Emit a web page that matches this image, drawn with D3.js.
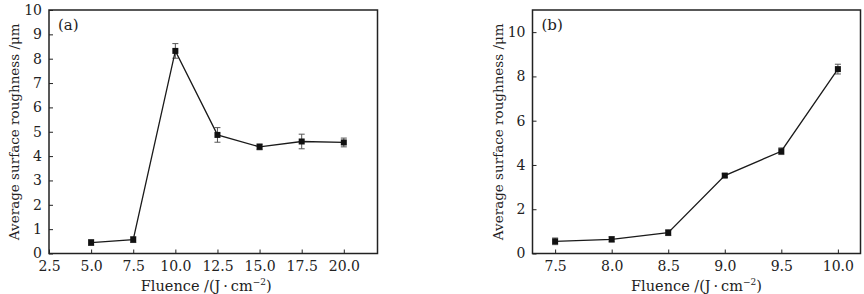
<!DOCTYPE html>
<html>
<head>
<meta charset="utf-8">
<script src="https://cdn.jsdelivr.net/npm/d3@7"></script>
<style>
  body { margin: 0; background: #fff; }
  svg text { font-family: "DejaVu Serif", serif; fill: #222; }
</style>
</head>
<body>
<svg width="864" height="294"></svg>
<script>
// panel (a)
const fluenceA = [5.0, 7.5, 10.0, 12.5, 15.0, 17.5, 20.0];
const roughA   = [0.45, 0.57, 8.32, 4.87, 4.38, 4.60, 4.56];
const errA     = [0.12, 0.12, 0.30, 0.30, 0.12, 0.30, 0.18];
const xTicksA  = [2.5, 5.0, 7.5, 10.0, 12.5, 15.0, 17.5, 20.0];
const yTicksA  = [0, 1, 2, 3, 4, 5, 6, 7, 8, 9, 10];

// panel (b)
const fluenceB = [7.5, 8.0, 8.5, 9.0, 9.5, 10.0];
const roughB   = [0.55, 0.64, 0.94, 3.52, 4.62, 8.33];
const errB     = [0.15, 0.12, 0.13, 0.08, 0.15, 0.22];
const xTicksB  = [7.5, 8.0, 8.5, 9.0, 9.5, 10.0];
const yTicksB  = [0, 2, 4, 6, 8, 10];

const svg = d3.select('svg');

const drawPanel = p => {
  const x = d3.scaleLinear().domain(p.xDomain).range([p.left, p.right]);
  const y = d3.scaleLinear().domain(p.yDomain).range([p.bottom, p.top]);
  const g = svg.append('g');

  const xAxis = d3.axisBottom(x).tickValues(p.xTicks)
    .tickFormat(d3.format('.1f')).tickSizeInner(-4).tickSizeOuter(0).tickPadding(8);
  const yAxis = d3.axisLeft(y).tickValues(p.yTicks)
    .tickFormat(d3.format('d')).tickSizeInner(-4).tickSizeOuter(0).tickPadding(7);

  const xg = g.append('g').attr('transform', `translate(0,${p.bottom})`).call(xAxis);
  const yg = g.append('g').attr('transform', `translate(${p.left},0)`).call(yAxis);
  [xg, yg].forEach(a => {
    a.select('.domain').remove();
    a.selectAll('.tick line').attr('stroke', '#222').attr('stroke-width', 1);
    a.selectAll('.tick text').style('font-size', '14px').attr('fill', '#222');
  });

  // frame
  g.append('rect')
    .attr('x', p.left).attr('y', p.top)
    .attr('width', p.right - p.left).attr('height', p.bottom - p.top)
    .attr('fill', 'none').attr('stroke', '#222').attr('stroke-width', 1.5);

  const data = p.xs.map((d, i) => ({ x: d, y: p.ys[i], e: p.es[i] }));

  // error bars
  const eb = g.append('g').attr('stroke', '#555').attr('stroke-width', 1);
  eb.selectAll('line.v').data(data).enter().append('line')
    .attr('x1', d => x(d.x)).attr('x2', d => x(d.x))
    .attr('y1', d => y(d.y - d.e)).attr('y2', d => y(d.y + d.e));
  eb.selectAll('line.t').data(data).enter().append('line')
    .attr('x1', d => x(d.x) - 3).attr('x2', d => x(d.x) + 3)
    .attr('y1', d => y(d.y + d.e)).attr('y2', d => y(d.y + d.e));
  eb.selectAll('line.b').data(data).enter().append('line')
    .attr('x1', d => x(d.x) - 3).attr('x2', d => x(d.x) + 3)
    .attr('y1', d => y(d.y - d.e)).attr('y2', d => y(d.y - d.e));

  const line = d3.line().x(d => x(d.x)).y(d => y(d.y));
  g.append('path').datum(data)
    .attr('d', line).attr('fill', 'none')
    .attr('stroke', '#1a1a1a').attr('stroke-width', 1.3);

  g.selectAll('rect.pt').data(data).enter().append('rect')
    .attr('class', 'pt')
    .attr('x', d => x(d.x) - 3).attr('y', d => y(d.y) - 3)
    .attr('width', 6).attr('height', 6).attr('fill', '#111');

  // panel letter
  g.append('text').attr('x', p.left + 9).attr('y', p.top + 20)
    .style('font-size', '15px').text(p.letter);

  // axis labels
  g.append('text')
    .attr('transform', `translate(${p.left - 30},${(p.top + p.bottom) / 2}) rotate(-90)`)
    .attr('text-anchor', 'middle').style('font-size', '13.5px')
    .text('Average surface roughness /μm');

  const xl = g.append('text')
    .attr('x', (p.left + p.right) / 2 + p.xLabelShift).attr('y', 291)
    .attr('text-anchor', 'middle').style('font-size', '14.5px');
  xl.append('tspan').text('Fluence /(J\u2009\u00b7\u2009cm');
  xl.append('tspan').attr('dy', -6).style('font-size', '9px').text('\u22122');
  xl.append('tspan').attr('dy', 6).text(')');
};

drawPanel({
  left: 49, right: 377.5, top: 10, bottom: 253.5,
  xDomain: [2.5, 22], yDomain: [0, 10],
  xTicks: xTicksA, yTicks: yTicksA,
  xs: fluenceA, ys: roughA, es: errA, letter: '(a)', xLabelShift: -7
});

drawPanel({
  left: 532.5, right: 860.5, top: 10, bottom: 253.5,
  xDomain: [7.3, 10.2], yDomain: [0, 11],
  xTicks: xTicksB, yTicks: yTicksB,
  xs: fluenceB, ys: roughB, es: errB, letter: '(b)', xLabelShift: 0
});
</script>
</body>
</html>
